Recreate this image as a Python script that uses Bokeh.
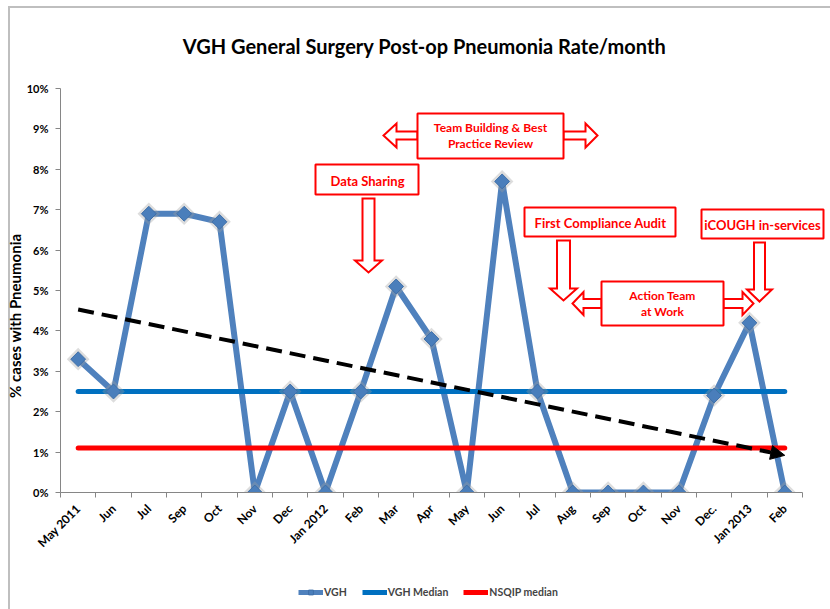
import math
from bokeh.plotting import figure
from bokeh.layouts import column
from bokeh.models import (Range1d, FixedTicker, Label, Legend, LegendItem, Arrow, NormalHead)
from bokeh.embed import file_html
from bokeh.resources import INLINE

# ---------------- data ----------------
months = ["May 2011", "Jun", "Jul", "Sep", "Oct", "Nov", "Dec", "Jan 2012", "Feb", "Mar",
          "Apr", "May", "Jun", "Jul", "Aug", "Sep", "Oct", "Nov", "Dec.", "Jan 2013", "Feb"]
vgh_rate = [3.3, 2.5, 6.9, 6.9, 6.7, 0.0, 2.5, 0.0, 2.5, 5.1,
            3.8, 0.0, 7.7, 2.5, 0.0, 0.0, 0.0, 0.0, 2.4, 4.2, 0.0]
vgh_median = 2.5
nsqip_median = 1.1
trend_start = 4.53
trend_end = 0.92
y_ticks = [0, 1, 2, 3, 4, 5, 6, 7, 8, 9, 10]
y_tick_labels = ["0%", "1%", "2%", "3%", "4%", "5%", "6%", "7%", "8%", "9%", "10%"]

FONT = "Lato"
AXIS_GRAY = "#868686"
RED = "#FF0000"
VGH_BLUE = "#4F81BD"
MED_BLUE = "#0070C0"

idx = list(range(len(months)))
n = len(months)

# frame placement (figure pixels)
W, H_MAIN, H_LEG = 830, 575, 34
FX0, FX1 = 60, 830
FY_TEN, FY_ZERO = 88, 492
unit_x = 35.33
unit_y = (FY_ZERO - FY_TEN) / 10.0
x_end = -0.5 + (FX1 - FX0) / unit_x
y_top = FY_ZERO / unit_y


def dx(px):
    return -0.5 + (px - FX0) / unit_x


def dy(py):
    return (FY_ZERO - py) / unit_y


p = figure(width=W, height=H_MAIN, x_range=Range1d(-0.5, x_end), y_range=Range1d(0, y_top),
           output_backend="svg", toolbar_location=None,
           min_border_left=FX0, min_border_right=W - FX1, min_border_top=0,
           min_border_bottom=H_MAIN - FY_ZERO)
p.outline_line_color = None
p.grid.visible = False
p.background_fill_color = None
p.border_fill_color = None

# axes
xa = p.xaxis[0]
xa.ticker = FixedTicker(ticks=idx, minor_ticks=[i - 0.5 for i in range(n + 1)])
xa.major_label_overrides = {i: m for i, m in enumerate(months)}
xa.bounds = (-0.5, n - 0.5)
xa.axis_line_color = AXIS_GRAY
xa.major_tick_line_color = None
xa.major_tick_out = 0
xa.major_tick_in = 0
xa.minor_tick_line_color = AXIS_GRAY
xa.minor_tick_out = 5
xa.minor_tick_in = 0
xa.major_label_orientation = math.pi / 4
xa.major_label_standoff = 9
xa.major_label_text_font = FONT
xa.major_label_text_font_style = "bold"
xa.major_label_text_font_size = "12px"
xa.major_label_text_color = "black"

ya = p.yaxis[0]
ya.ticker = FixedTicker(ticks=y_ticks)
ya.major_label_overrides = {t: l for t, l in zip(y_ticks, y_tick_labels)}
ya.bounds = (0, 10)
ya.axis_line_color = AXIS_GRAY
ya.major_tick_line_color = AXIS_GRAY
ya.major_tick_out = 5
ya.major_tick_in = 0
ya.minor_tick_line_color = None
ya.major_label_standoff = 7
ya.major_label_text_font = FONT
ya.major_label_text_font_style = "bold"
ya.major_label_text_font_size = "11px"
ya.major_label_text_color = "black"
# the axis title is centred on the (taller) frame; trailing no-break spaces move it down
ya.axis_label = "% cases with Pneumonia" + "\u00a0" * 38
ya.axis_label_standoff = 0
ya.axis_label_text_font = FONT
ya.axis_label_text_font_style = "bold"
ya.axis_label_text_font_size = "15px"
ya.axis_label_text_color = "black"

# ---------------- series ----------------
p.line(idx, vgh_rate, line_color=VGH_BLUE, line_width=6, line_join="round")
p.line([0, n - 1], [vgh_median, vgh_median], line_color=MED_BLUE, line_width=5, line_cap="round")
p.line([0, n - 1], [nsqip_median, nsqip_median], line_color=RED, line_width=5, line_cap="round")
p.scatter(idx, vgh_rate, marker="square", angle=math.pi / 4, size=16,
          fill_color="#9E9E9E", fill_alpha=0.35, line_color=None)
p.scatter(idx, vgh_rate, marker="square", angle=math.pi / 4, size=10.5,
          fill_color="#4A7EBB", line_color="#3F6FA8", line_width=1)

p.add_layout(Arrow(x_start=0, y_start=trend_start, x_end=n - 1, y_end=trend_end,
                   line_color="black", line_width=4, line_dash="16 8",
                   end=NormalHead(size=14, fill_color="black", line_color="black", line_width=1)))


# ---------------- annotations (pixel geometry) ----------------
def box(x0, x1, y0, y1):
    p.patch([dx(x0), dx(x1), dx(x1), dx(x0)], [dy(y0), dy(y0), dy(y1), dy(y1)],
            fill_color="white", line_color=RED, line_width=2)


def down_arrow(cx, sw, y0, yb, hw, y1):
    xs = [cx - sw, cx + sw, cx + sw, cx + hw, cx, cx - hw, cx - sw]
    ys = [y0, y0, yb, yb, y1, yb, yb]
    p.patch([dx(v) for v in xs], [dy(v) for v in ys], fill_color="white", line_color=RED,
            line_width=2, line_join="miter")


def lr_arrows(bx0, bx1, cy, sh, hh, ltip, lbase, rbase, rtip):
    xs = [bx0, lbase, lbase, ltip, lbase, lbase, bx0]
    ys = [cy - sh, cy - sh, cy - hh, cy, cy + hh, cy + sh, cy + sh]
    p.patch([dx(v) for v in xs], [dy(v) for v in ys], fill_color="white", line_color=RED,
            line_width=2, line_join="miter")
    xs = [bx1, rbase, rbase, rtip, rbase, rbase, bx1]
    p.patch([dx(v) for v in xs], [dy(v) for v in ys], fill_color="white", line_color=RED,
            line_width=2, line_join="miter")


def text(px, py, s, size="12px", color=RED):
    p.add_layout(Label(x=dx(px), y=dy(py), text=s, text_align="center", text_baseline="middle",
                       text_color=color, text_font=FONT, text_font_style="bold", text_font_size=size))


# Team Building & Best Practice Review
lr_arrows(417, 563, 135, 4, 12, 383, 396, 585, 597)
box(417, 563, 113, 158)
text(490, 127, "Team Building & Best")
text(490, 143, "Practice Review")

# Data Sharing
box(315, 418, 164, 194)
text(367, 180, "Data Sharing", "13px")
down_arrow(368, 6, 198, 260, 13.5, 272)

# First Compliance Audit
box(524, 675, 207, 236)
text(600, 222, "First Compliance Audit", "13px")
down_arrow(563, 6.5, 240, 288, 13.5, 300)

# iCOUGH in-services
box(701, 823, 209, 238)
text(762, 224, "iCOUGH in-services", "13px")
down_arrow(759, 5.5, 242, 289, 12.5, 301)

# Action Team at Work
lr_arrows(601, 723, 303, 4.5, 11.5, 572, 583, 742, 753)
box(601, 723, 281, 325)
text(662, 295, "Action Team")
text(662, 311, "at Work")

# chart title
text(424, 45, "VGH General Surgery Post-op Pneumonia Rate/month", "20px", "black")

# ---------------- legend strip ----------------
leg = figure(width=W, height=H_LEG, x_range=Range1d(0, 1), y_range=Range1d(0, 1),
             output_backend="svg", toolbar_location=None, x_axis_type=None, y_axis_type=None,
             min_border_left=0, min_border_right=0, min_border_top=0, min_border_bottom=0)
leg.outline_line_color = None
leg.grid.visible = False
leg.background_fill_color = None
leg.border_fill_color = None
# legend keys only (kept outside the strip's visible range)
k_line = leg.line([5, 6], [5, 6], line_color=VGH_BLUE, line_width=5)
k_pts = leg.scatter([5], [5], marker="square", angle=math.pi / 4, size=8,
                    fill_color="#4A7EBB", line_color="#3F6FA8")
k_med = leg.line([5, 6], [5, 6], line_color=MED_BLUE, line_width=5)
k_nsq = leg.line([5, 6], [5, 6], line_color=RED, line_width=5)
legend = Legend(items=[LegendItem(label="VGH", renderers=[k_line, k_pts]),
                       LegendItem(label="VGH Median", renderers=[k_med]),
                       LegendItem(label="NSQIP median", renderers=[k_nsq])],
                orientation="horizontal", location=(238, 11),
                glyph_width=25, glyph_height=12, label_height=12, label_standoff=1, spacing=15,
                padding=0, margin=0, border_line_color=None, background_fill_alpha=0,
                label_text_font=FONT, label_text_font_style="bold", label_text_font_size="10.5px")
leg.add_layout(legend)

p.styles = {
    "background-image": "linear-gradient(#BFBFBF, #BFBFBF), linear-gradient(#BFBFBF, #BFBFBF)",
    "background-size": "2px 100%, 100% 2px",
    "background-position": "8px 6px, 8px 6px",
    "background-repeat": "no-repeat",
}
leg.styles = {
    "background-image": "linear-gradient(#BFBFBF, #BFBFBF)",
    "background-size": "2px 100%",
    "background-position": "8px 0px",
    "background-repeat": "no-repeat",
}

layout = column(p, leg, spacing=0)
open("out.html", "w").write(file_html(layout, INLINE))
